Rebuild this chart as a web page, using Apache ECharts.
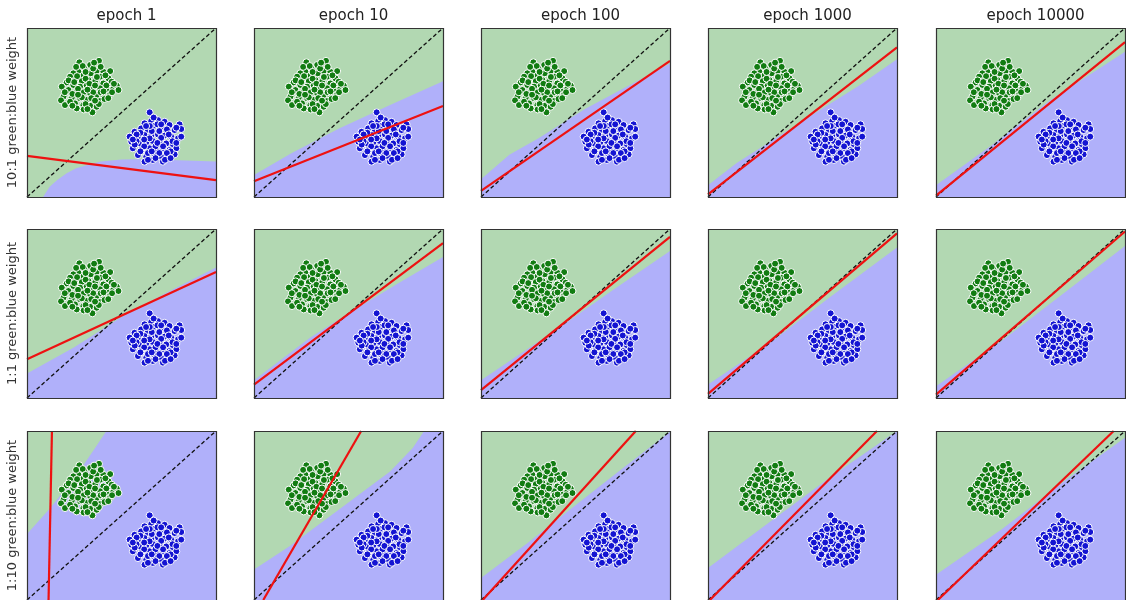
<!DOCTYPE html>
<html><head><meta charset="utf-8">
<script src="https://cdn.jsdelivr.net/npm/echarts@6/dist/echarts.min.js"></script>
<style>html,body{margin:0;padding:0;background:#fff}#c{width:1126px;height:600px}</style>
</head><body><div id="c"></div>
<script>
const epochs = ['epoch 1', 'epoch 10', 'epoch 100', 'epoch 1000', 'epoch 10000'];
const rowLabels = ['10:1 green:blue weight', '1:1 green:blue weight', '1:10 green:blue weight'];

const greenPoints = [
 [0.277,0.797],[0.381,0.806],[0.334,0.781],[0.304,0.761],[0.369,0.745],[0.404,0.741],[0.440,0.745],
 [0.272,0.741],[0.245,0.732],[0.337,0.732],[0.298,0.718],[0.387,0.712],[0.431,0.702],[0.228,0.712],
 [0.260,0.698],[0.290,0.686],[0.325,0.692],[0.360,0.682],[0.404,0.672],[0.448,0.682],[0.210,0.678],
 [0.245,0.663],[0.281,0.653],[0.316,0.659],[0.351,0.647],[0.387,0.643],[0.422,0.633],[0.457,0.643],
 [0.184,0.653],[0.219,0.633],[0.263,0.623],[0.298,0.619],[0.334,0.613],[0.369,0.603],[0.404,0.599],
 [0.440,0.607],[0.193,0.594],[0.237,0.588],[0.281,0.584],[0.316,0.574],[0.351,0.564],[0.387,0.568],
 [0.180,0.572],[0.201,0.544],[0.254,0.554],[0.298,0.544],[0.334,0.540],[0.369,0.534],[0.228,0.564],
 [0.263,0.524],[0.300,0.518],[0.346,0.501],[0.475,0.659],[0.484,0.633],
 [0.310,0.700],[0.350,0.620],[0.270,0.640],[0.390,0.620],[0.420,0.660],[0.240,0.610],[0.330,0.670],
 [0.290,0.590],[0.370,0.710],[0.410,0.580],[0.260,0.770],[0.350,0.760],[0.310,0.550],[0.220,0.690],
 [0.450,0.620],[0.380,0.550],
 [0.295,0.775],[0.355,0.795],[0.415,0.720],[0.265,0.715],[0.320,0.635],[0.360,0.660],[0.405,0.625],
 [0.250,0.680],[0.200,0.620],[0.430,0.585],[0.340,0.585],[0.270,0.605],[0.310,0.740],[0.390,0.770],
 [0.460,0.670],[0.240,0.540],[0.320,0.520],[0.360,0.570]
];
const bluePoints = [
 [0.649,0.501],[0.693,0.455],[0.657,0.449],[0.622,0.436],[0.728,0.445],[0.754,0.426],[0.675,0.422],
 [0.710,0.416],[0.604,0.406],[0.640,0.396],[0.746,0.390],[0.781,0.396],[0.807,0.430],[0.816,0.402],
 [0.569,0.386],[0.543,0.357],[0.587,0.357],[0.622,0.367],[0.657,0.363],[0.693,0.370],[0.728,0.363],
 [0.763,0.357],[0.799,0.347],[0.552,0.327],[0.596,0.317],[0.631,0.323],[0.666,0.331],[0.701,0.327],
 [0.737,0.317],[0.772,0.311],[0.816,0.357],[0.560,0.288],[0.604,0.278],[0.649,0.288],[0.684,0.278],
 [0.719,0.288],[0.754,0.278],[0.790,0.288],[0.587,0.248],[0.631,0.238],[0.675,0.248],[0.710,0.238],
 [0.746,0.244],[0.781,0.252],[0.622,0.209],[0.666,0.219],[0.719,0.209],[0.649,0.347],
 [0.680,0.300],[0.620,0.300],[0.710,0.350],[0.740,0.400],[0.660,0.390],[0.580,0.330],[0.770,0.330],
 [0.700,0.260],[0.640,0.260],[0.600,0.380],[0.730,0.220],[0.690,0.430],[0.760,0.270],[0.570,0.310],
 [0.650,0.420],
 [0.670,0.470],[0.710,0.430],[0.630,0.420],[0.580,0.370],[0.750,0.370],[0.690,0.320],[0.720,0.300],
 [0.620,0.340],[0.660,0.270],[0.600,0.270],[0.740,0.260],[0.790,0.320],[0.680,0.230],[0.640,0.220],
 [0.700,0.390],[0.560,0.340],[0.790,0.410],[0.760,0.230]
];

// blue-region upper boundary per panel (region below is blue)
const boundaryRow1 = [
 [[0,0],[0.085,0],[0.12,0.06],[0.16,0.1],[0.21,0.14],[0.26,0.17],[0.32,0.19],[0.39,0.21],[0.5,0.222],[0.65,0.225],[0.8,0.218],[1,0.21]],
 [[0,0.13],[0.2,0.26],[0.45,0.405],[0.72,0.545],[1,0.685]],
 [[0,0.105],[0.15,0.25],[0.3,0.345],[0.55,0.52],[0.8,0.67],[1,0.79]],
 [[0,0.07],[0.15,0.2],[0.5,0.45],[0.8,0.66],[1,0.815]],
 [[0,0.07],[0.3,0.31],[0.6,0.57],[1,0.86]]
];
const boundaryRow2 = [
 [[0,0.145],[0.25,0.3],[0.5,0.48],[0.75,0.63],[1,0.772]],
 [[0,0.105],[0.3,0.36],[0.5,0.5],[0.75,0.67],[1,0.835]],
 [[0,0.105],[0.4,0.405],[0.7,0.64],[1,0.87]],
 [[0,0.08],[0.32,0.32],[0.65,0.6],[1,0.89]],
 [[0,0.07],[0.35,0.34],[0.7,0.64],[1,0.9]]
];
const boundaryRow3 = [
 [[0,0.39],[0.12,0.54],[0.22,0.68],[0.3,0.8],[0.36,0.9],[0.42,1.0],[0.45,1.05],[1,1.05]],
 [[0,0.18],[0.19,0.32],[0.45,0.535],[0.72,0.76],[0.84,0.9],[0.9,1.0],[0.93,1.05],[1,1.05]],
 [[0,0.13],[0.25,0.34],[0.5,0.56],[0.75,0.78],[1,0.995]],
 [[0,0.19],[0.3,0.44],[0.65,0.73],[1,1.0]],
 [[0,0.15],[0.35,0.42],[0.7,0.72],[1,0.96]]
];
const redRow1 = [[[0,0.243],[1,0.10]], [[0,0.093],[1,0.539]], [[0,0.036],[1,0.806]], [[0,0.016],[1,0.885]], [[0,0.008],[1,0.917]]];
const redRow2 = [[[0,0.23],[1,0.745]], [[0,0.079],[1,0.917]], [[0,0.046],[1,0.954]], [[0,0.024],[1,0.974]], [[0,0.02],[1,0.985]]];
const redRow3 = [[[0.114,0],[0.132,1]], [[0.049,0],[0.567,1]], [[0.009,0],[0.819,1]], [[0.01,0],[0.894,1]], [[0.01,0],[0.94,1]]];
const diagonal = [[0,0],[1,1]];

const boundaries = [boundaryRow1, boundaryRow2, boundaryRow3];
const reds = [redRow1, redRow2, redRow3];

// layout
const colLeft = [27, 254, 481, 708, 936];
const rowTop = [28, 229, 431];
const W = 189, H = 169;
const GREEN_BG = '#b2d8b2', BLUE_BG = '#b0b0fa';
const GREEN_DOT = '#127c12', BLUE_DOT = '#1414d2';

const grid = [], xAxis = [], yAxis = [], series = [], graphic = [], title = [];
let k = 0;
for (let r = 0; r < 3; r++) {
  for (let c = 0; c < 5; c++) {
    grid.push({left: colLeft[c], top: rowTop[r], width: W, height: H, show: true, backgroundColor: GREEN_BG, borderWidth: 0});
    xAxis.push({type: 'value', gridIndex: k, min: 0, max: 1, show: false});
    yAxis.push({type: 'value', gridIndex: k, min: 0, max: 1, show: false});
    series.push({type: 'line', xAxisIndex: k, yAxisIndex: k, data: boundaries[r][c], symbol: 'none', silent: true,
      lineStyle: {width: 0, opacity: 0}, areaStyle: {color: BLUE_BG, opacity: 1, origin: 'start'}, z: 1});
    series.push({type: 'line', xAxisIndex: k, yAxisIndex: k, data: diagonal, symbol: 'none', silent: true,
      lineStyle: {color: '#111', width: 1.3, type: [4, 2.5]}, z: 2});
    series.push({type: 'scatter', xAxisIndex: k, yAxisIndex: k, data: greenPoints, symbolSize: 7, silent: true,
      itemStyle: {color: GREEN_DOT, borderColor: '#fff', borderWidth: 1, opacity: 1}, z: 3});
    series.push({type: 'scatter', xAxisIndex: k, yAxisIndex: k, data: bluePoints, symbolSize: 7, silent: true,
      itemStyle: {color: BLUE_DOT, borderColor: '#fff', borderWidth: 1, opacity: 1}, z: 3});
    series.push({type: 'line', xAxisIndex: k, yAxisIndex: k, data: reds[r][c], symbol: 'none', silent: true,
      lineStyle: {color: '#ee1111', width: 2.2}, z: 4});
    graphic.push({type: 'rect', z: 100, silent: true,
      shape: {x: colLeft[c] + 0.5, y: rowTop[r] + 0.5, width: W, height: H},
      style: {fill: 'none', stroke: '#333', lineWidth: 1.2}});
    k++;
  }
}
for (let c = 0; c < 5; c++) {
  title.push({text: epochs[c], left: colLeft[c] + W / 2, top: 4, textAlign: 'center',
    textStyle: {fontFamily: 'DejaVu Sans', fontSize: 15, fontWeight: 'normal', color: '#222'}});
}
for (let r = 0; r < 3; r++) {
  graphic.push({type: 'text', x: 13, y: rowTop[r] + H / 2, rotation: Math.PI / 2, z: 100, silent: true,
    style: {text: rowLabels[r], fontFamily: 'DejaVu Sans', fontSize: 13, fill: '#333', textAlign: 'center', textVerticalAlign: 'middle'}});
}

const chart = echarts.init(document.getElementById('c'), null, {renderer: 'canvas'});
chart.setOption({animation: false, backgroundColor: '#fff', title, grid, xAxis, yAxis, series, graphic});
</script>
</body></html>
